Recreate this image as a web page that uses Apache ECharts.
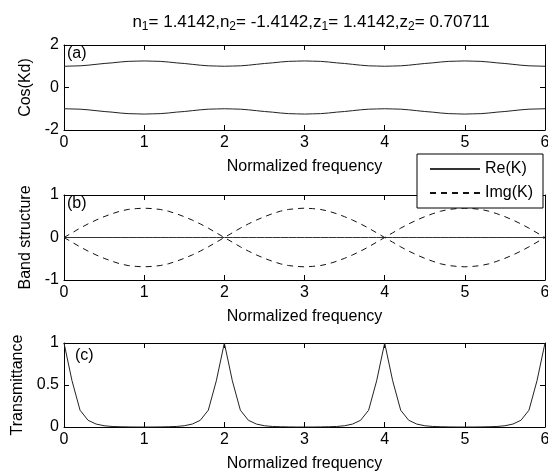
<!DOCTYPE html>
<html>
<head>
<meta charset="utf-8">
<script src="https://cdn.jsdelivr.net/npm/echarts@6.0.0/dist/echarts.min.js"></script>
<style>
  html, body { margin: 0; padding: 0; background: #fff; }
  #chart { width: 548px; height: 472px; }
</style>
</head>
<body>
<div id="chart"></div>
<script>
// normalized frequency samples
var freq = [
  0, 0.1, 0.2, 0.3, 0.4, 0.5, 0.6, 0.7, 0.8, 0.9,
  1, 1.1, 1.2, 1.3, 1.4, 1.5, 1.6, 1.7, 1.8, 1.9,
  2, 2.1, 2.2, 2.3, 2.4, 2.5, 2.6, 2.7, 2.8, 2.9,
  3, 3.1, 3.2, 3.3, 3.4, 3.5, 3.6, 3.7, 3.8, 3.9,
  4, 4.1, 4.2, 4.3, 4.4, 4.5, 4.6, 4.7, 4.8, 4.9,
  5, 5.1, 5.2, 5.3, 5.4, 5.5, 5.6, 5.7, 5.8, 5.9,
  6
];

// (a) cos(Kd), upper and lower branch
var cosUpper = [
  1.00, 1.01, 1.02, 1.05, 1.09, 1.13, 1.16, 1.20, 1.23, 1.24,
  1.25, 1.24, 1.23, 1.20, 1.16, 1.13, 1.09, 1.05, 1.02, 1.01,
  1.00, 1.01, 1.02, 1.05, 1.09, 1.13, 1.16, 1.20, 1.23, 1.24,
  1.25, 1.24, 1.23, 1.20, 1.16, 1.13, 1.09, 1.05, 1.02, 1.01,
  1.00, 1.01, 1.02, 1.05, 1.09, 1.13, 1.16, 1.20, 1.23, 1.24,
  1.25, 1.24, 1.23, 1.20, 1.16, 1.13, 1.09, 1.05, 1.02, 1.01,
  1.00
];
var cosLower = [
  -1.00, -1.01, -1.02, -1.05, -1.09, -1.13, -1.16, -1.20, -1.23, -1.24,
  -1.25, -1.24, -1.23, -1.20, -1.16, -1.13, -1.09, -1.05, -1.02, -1.01,
  -1.00, -1.01, -1.02, -1.05, -1.09, -1.13, -1.16, -1.20, -1.23, -1.24,
  -1.25, -1.24, -1.23, -1.20, -1.16, -1.13, -1.09, -1.05, -1.02, -1.01,
  -1.00, -1.01, -1.02, -1.05, -1.09, -1.13, -1.16, -1.20, -1.23, -1.24,
  -1.25, -1.24, -1.23, -1.20, -1.16, -1.13, -1.09, -1.05, -1.02, -1.01,
  -1.00
];

// (b) band structure
var reK = [
  0, 0, 0, 0, 0, 0, 0, 0, 0, 0,
  0, 0, 0, 0, 0, 0, 0, 0, 0, 0,
  0, 0, 0, 0, 0, 0, 0, 0, 0, 0,
  0, 0, 0, 0, 0, 0, 0, 0, 0, 0,
  0, 0, 0, 0, 0, 0, 0, 0, 0, 0,
  0, 0, 0, 0, 0, 0, 0, 0, 0, 0,
  0
];
var imgKUp = [
  0, 0.11, 0.22, 0.32, 0.41, 0.49, 0.56, 0.62, 0.66, 0.68,
  0.69, 0.68, 0.66, 0.62, 0.56, 0.49, 0.41, 0.32, 0.22, 0.11,
  0, 0.11, 0.22, 0.32, 0.41, 0.49, 0.56, 0.62, 0.66, 0.68,
  0.69, 0.68, 0.66, 0.62, 0.56, 0.49, 0.41, 0.32, 0.22, 0.11,
  0, 0.11, 0.22, 0.32, 0.41, 0.49, 0.56, 0.62, 0.66, 0.68,
  0.69, 0.68, 0.66, 0.62, 0.56, 0.49, 0.41, 0.32, 0.22, 0.11,
  0
];
var imgKDown = [
  0, -0.11, -0.22, -0.32, -0.41, -0.49, -0.56, -0.62, -0.66, -0.68,
  -0.69, -0.68, -0.66, -0.62, -0.56, -0.49, -0.41, -0.32, -0.22, -0.11,
  0, -0.11, -0.22, -0.32, -0.41, -0.49, -0.56, -0.62, -0.66, -0.68,
  -0.69, -0.68, -0.66, -0.62, -0.56, -0.49, -0.41, -0.32, -0.22, -0.11,
  0, -0.11, -0.22, -0.32, -0.41, -0.49, -0.56, -0.62, -0.66, -0.68,
  -0.69, -0.68, -0.66, -0.62, -0.56, -0.49, -0.41, -0.32, -0.22, -0.11,
  0
];

// (c) transmittance
var trans = [
  1, 0.55, 0.2, 0.08, 0.035, 0.015, 0.006, 0.003, 0.001, 0,
  0, 0, 0.001, 0.003, 0.006, 0.015, 0.035, 0.08, 0.2, 0.55,
  1, 0.55, 0.2, 0.08, 0.035, 0.015, 0.006, 0.003, 0.001, 0,
  0, 0, 0.001, 0.003, 0.006, 0.015, 0.035, 0.08, 0.2, 0.55,
  1, 0.55, 0.2, 0.08, 0.035, 0.015, 0.006, 0.003, 0.001, 0,
  0, 0, 0.001, 0.003, 0.006, 0.015, 0.035, 0.08, 0.2, 0.55,
  1
];

var FONT = 'Liberation Sans, Arial, sans-serif';

function pairs(ys) {
  return freq.map(function (x, i) { return [x, ys[i]]; });
}

// bottom/top x axes, MATLAB style box with inward ticks
function xAx(grid, pos) {
  var bottom = pos === 'bottom';
  return {
    type: 'value', gridIndex: grid, position: pos,
    min: 0, max: 6, interval: 1,
    axisLine: { show: true, onZero: false, lineStyle: { color: '#000', width: 1 } },
    axisTick: { show: true, inside: true, length: 5, lineStyle: { color: '#000' } },
    axisLabel: { show: bottom, color: '#000', fontSize: 16, margin: 5, fontFamily: FONT, hideOverlap: false },
    splitLine: { show: false },
    name: bottom ? 'Normalized frequency' : '',
    nameLocation: 'middle', nameGap: 29,
    nameTextStyle: { color: '#000', fontSize: 16, fontFamily: FONT }
  };
}

function yAx(grid, pos, min, max, interval, name, gap) {
  var left = pos === 'left';
  return {
    type: 'value', gridIndex: grid, position: pos,
    min: min, max: max, interval: interval,
    axisLine: { show: true, onZero: false, lineStyle: { color: '#000', width: 1 } },
    axisTick: { show: true, inside: true, length: 5, lineStyle: { color: '#000' } },
    axisLabel: { show: left, color: '#000', fontSize: 16, margin: 5, fontFamily: FONT, hideOverlap: false },
    splitLine: { show: false },
    name: left ? name : '',
    nameLocation: 'middle', nameGap: gap,
    nameTextStyle: { color: '#000', fontSize: 16, fontFamily: FONT }
  };
}

function line(name, ys, xi, color, type) {
  return {
    name: name, type: 'line', data: pairs(ys),
    xAxisIndex: xi, yAxisIndex: xi,
    showSymbol: false, symbol: 'none', silent: true, animation: false,
    lineStyle: { color: color, width: 1, type: type || 'solid' },
    itemStyle: { color: color }
  };
}

var chart = echarts.init(document.getElementById('chart'), null, { renderer: 'canvas' });

chart.setOption({
  backgroundColor: '#fff',
  animation: false,
  title: {
    text: 'n{s|1}= 1.4142,n{s|2}= -1.4142,z{s|1}= 1.4142,z{s|2}= 0.70711',
    left: 306, top: 6, textAlign: 'center',
    textStyle: {
      fontSize: 17, fontWeight: 'normal', color: '#000', fontFamily: FONT, lineHeight: 22,
      rich: {
        s: { fontSize: 12, lineHeight: 22, verticalAlign: 'bottom', color: '#000', fontFamily: FONT }
      }
    }
  },
  legend: {
    data: ['Re(K)', 'Img(K)'],
    orient: 'vertical', left: 417, top: 154,
    backgroundColor: '#fff', borderColor: '#000', borderWidth: 1, borderRadius: 0,
    padding: [7, 10, 7, 12], itemGap: 8, itemWidth: 50, itemHeight: 14,
    itemStyle: { opacity: 0 },
    textStyle: { fontSize: 16, color: '#000', fontFamily: FONT },
    selectedMode: false
  },
  grid: [
    { left: 64, right: 3, top: 45, height: 85, outerBoundsMode: 'none' },
    { left: 64, right: 3, top: 195, height: 85, outerBoundsMode: 'none' },
    { left: 64, right: 3, top: 343, height: 84, outerBoundsMode: 'none' }
  ],
  xAxis: [
    xAx(0, 'bottom'), xAx(0, 'top'),
    xAx(1, 'bottom'), xAx(1, 'top'),
    xAx(2, 'bottom'), xAx(2, 'top')
  ],
  yAxis: [
    yAx(0, 'left', -2, 2, 2, 'Cos(Kd)', 22), yAx(0, 'right', -2, 2, 2),
    yAx(1, 'left', -1, 1, 1, 'Band structure', 22), yAx(1, 'right', -1, 1, 1),
    yAx(2, 'left', 0, 1, 0.5, 'Transmittance', 29), yAx(2, 'right', 0, 1, 0.5)
  ],
  graphic: [
    { type: 'text', left: 67, top: 46, style: { text: '(a)', fontSize: 16, fill: '#000', fontFamily: FONT } },
    { type: 'text', left: 67, top: 196, style: { text: '(b)', fontSize: 16, fill: '#000', fontFamily: FONT } },
    { type: 'text', left: 75, top: 348, style: { text: '(c)', fontSize: 16, fill: '#000', fontFamily: FONT } }
  ],
  series: [
    line('cosUp', cosUpper, 0, '#222'),
    line('cosDown', cosLower, 0, '#222'),
    line('Re(K)', reK, 2, '#333'),
    line('Img(K)', imgKUp, 2, '#111', [6, 5]),
    line('Img(K)', imgKDown, 2, '#111', [6, 5]),
    line('T', trans, 4, '#222')
  ]
});
</script>
</body>
</html>
